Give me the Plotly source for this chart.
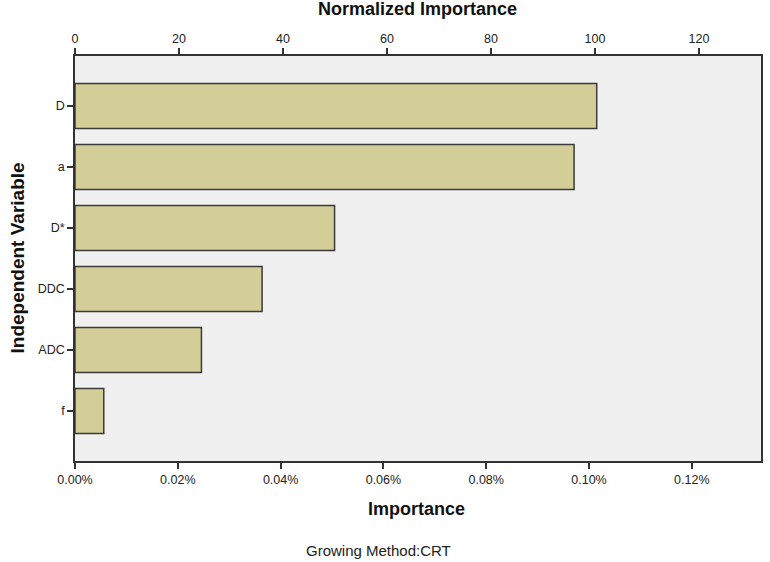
import plotly.graph_objects as go

variables = ["D", "a", "D*", "DDC", "ADC", "f"]
importance = [0.001015, 0.000971, 0.000505, 0.000364, 0.000246, 0.000056]
normalized = [100.0, 96.0, 49.9, 36.0, 24.4, 5.5]

FONT = "Liberation Sans, Arial, sans-serif"
AX = "#333333"
PLOT_H = 405

fig = go.Figure()
fig.add_trace(go.Bar(
    x=importance, y=variables, orientation="h",
    marker=dict(color="#D3CE97", line=dict(color="#3a3a3a", width=1.5)),
    width=0.74, xaxis="x", yaxis="y", showlegend=False, hoverinfo="x+y",
))
fig.add_trace(go.Scatter(
    x=normalized, y=variables, xaxis="x2", yaxis="y",
    mode="markers", marker=dict(opacity=0), showlegend=False, hoverinfo="skip",
))

axis_common = dict(
    showgrid=False, zeroline=False, automargin=False,
    showline=True, linecolor=AX, linewidth=1.5,
    ticks="outside", ticklen=6, tickcolor=AX, tickwidth=1.5,
    tickfont=dict(size=12.5, family=FONT, color="#222222"),
)

fig.update_layout(
    width=770, height=562,
    margin=dict(l=75, r=9, t=56, b=101),
    paper_bgcolor="white", plot_bgcolor="#F0F0F0",
    font=dict(family=FONT, size=12, color="#222222"),
    xaxis=dict(
        range=[0, 686 / 514000],
        tickvals=[0, 0.0002, 0.0004, 0.0006, 0.0008, 0.0010, 0.0012],
        tickformat=".2%", **axis_common,
    ),
    xaxis2=dict(
        range=[0, 686 / 5.2], tickvals=[0, 20, 40, 60, 80, 100, 120],
        overlaying="x", side="top", **axis_common,
    ),
    yaxis=dict(
        categoryorder="array", categoryarray=variables,
        range=[5.82, -0.82], mirror=True, **axis_common,
    ),
    annotations=[
        dict(text="<b>Normalized Importance</b>", x=0.499, y=1.0 + 47 / PLOT_H,
             xref="paper", yref="paper", yanchor="middle",
             showarrow=False, font=dict(size=18, family=FONT, color="#111111")),
        dict(text="<b>Importance</b>", x=0.4985, y=-48 / PLOT_H,
             xref="paper", yref="paper", yanchor="middle",
             showarrow=False, font=dict(size=18, family=FONT, color="#111111")),
        dict(text="Growing Method:CRT", x=0.4417, y=-89 / PLOT_H,
             xref="paper", yref="paper", yanchor="middle",
             showarrow=False, font=dict(size=15, family=FONT, color="#222222")),
        dict(text="<b>Independent Variable</b>", x=-58 / 686, y=0.5,
             xref="paper", yref="paper", xanchor="center", yanchor="middle",
             showarrow=False, textangle=-90, font=dict(size=19, family=FONT, color="#111111")),
    ],
)

fig.write_html(
    "out.html",
    config={"displayModeBar": False},
    post_script="document.body.style.margin='0';document.body.style.overflow='hidden';",
)
